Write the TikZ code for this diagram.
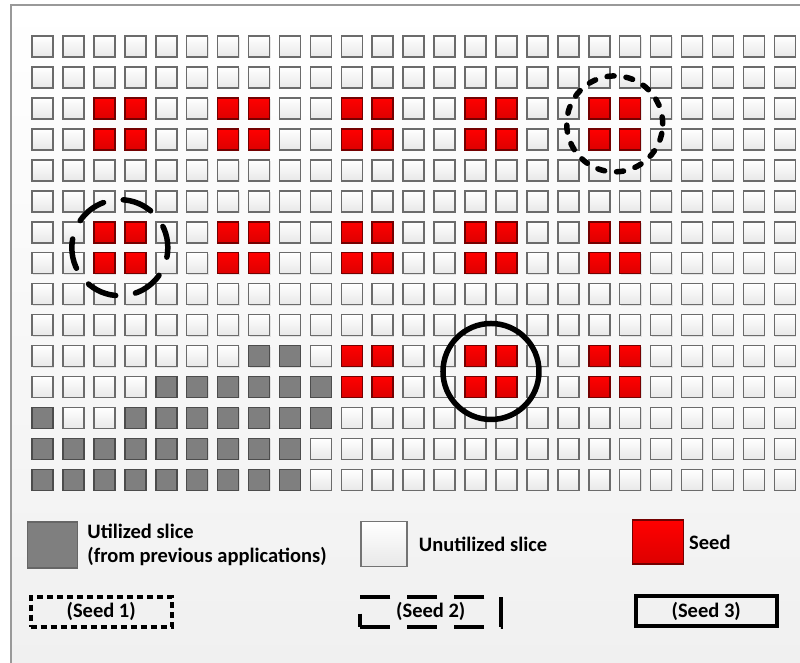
\documentclass[tikz,border=0pt]{standalone}
\usepackage{fontspec}
\setmainfont{Carlito}
\usepackage{tikz}
\usetikzlibrary{positioning, fit, shadows}
\definecolor{slicegrey}{HTML}{7F7F7F}
\definecolor{seedred}{HTML}{FF0000}
\definecolor{seeddark}{HTML}{DD0000}
\tikzset{
  slice/.style={rectangle, minimum size=21pt, inner sep=0pt, line width=1.6pt,
    drop shadow={shadow xshift=1pt, shadow yshift=-1pt, opacity=0.18}},
  keybox/.style={rectangle, inner sep=0pt, line width=1.4pt},
  lbl/.style={inner sep=0pt, font=\fontsize{20.5}{24}\selectfont\bfseries, align=left},
  ring/.style={circle, draw=black, line width=5.5pt, minimum size=96pt, inner sep=0pt},
  seedbox/.style={rectangle, draw=black, line width=4pt, minimum width=141pt, minimum height=30pt,
    inner sep=0pt, font=\fontsize{20.5}{24}\selectfont\bfseries}
}

\begin{document}
\begin{tikzpicture}[x=1pt, y=-1pt]
  \useasboundingbox (0,0) rectangle (800,662);
  % panel
  \draw[draw=black!40, line width=2pt, top color=white, bottom color=black!6] (11,5) rectangle (815,680);
  % slice grid: 0 = free, 1 = utilized, 2 = seed
  \foreach \r in {0,...,14}{
    \foreach \c in {0,...,24}{
      \pgfmathtruncatemacro\isseed{((\r==2)||(\r==3)||(\r==6)||(\r==7)||((\r==10)&&(\c>=10))||((\r==11)&&(\c>=10))) && (mod(\c,4)>=2) && (\c<=19)}
      \pgfmathtruncatemacro\isused{((\r==10)&&((\c==7)||(\c==8)))||((\r==11)&&(\c>=4)&&(\c<=9))||((\r==12)&&((\c==0)||((\c>=3)&&(\c<=9))))||((\r>=13)&&(\c<=8))}
      \pgfmathtruncatemacro\kind{\isused+2*\isseed}
      \ifcase\kind \def\tc{white}\def\bc{black!9}\def\dc{black!58}
      \or \def\tc{slicegrey}\def\bc{slicegrey}\def\dc{black!70}
      \or \def\tc{seedred}\def\bc{seeddark}\def\dc{red!45!black}\fi
      \node[slice, top color=\tc, bottom color=\bc, draw=\dc] (s-\r-\c) at (42.5+30.93*\c, 46.5+30.95*\r) {};
    }
  }
  % seed rings
  \node[ring, dash pattern=on 7pt off 12pt, line cap=round, fit=(s-2-18)(s-3-19)] (ring1) {};
  \node[ring, dash pattern=on 30pt off 20pt, dash phase=8pt, line cap=round, fit=(s-6-2)(s-7-3)] (ring2) {};
  \node[ring, fit=(s-10-14)(s-11-15)] (ring3) {};
  % legend
  \node[keybox, fill=slicegrey, draw=black!60, minimum width=50pt, minimum height=46pt] (keyused) at (52.5,545) {};
  \node[lbl, right=9pt of keyused] (lblused) {Utilized slice\\(from previous applications)};
  \node[keybox, top color=white, bottom color=black!9, draw=black!55, minimum width=46pt, minimum height=45pt] (keyfree) at (384,544) {};
  \node[lbl, right=11pt of keyfree] (lblfree) {Unutilized slice};
  \node[keybox, top color=seedred, bottom color=seeddark, draw=red!45!black, minimum width=51pt, minimum height=44pt] (keyseed) at (657.8,542) {};
  \node[lbl, right=5pt of keyseed] (lblseed) {Seed};
  \node[seedbox, dash pattern=on 6pt off 4pt] (box1) at (101.2,611.7) {(Seed 1)};
  \node[seedbox, dash pattern=on 30pt off 17pt] (box2) at (430.8,611.5) {(Seed 2)};
  \node[seedbox] (box3) at (706.2,611.3) {(Seed 3)};
\end{tikzpicture}
\end{document}
